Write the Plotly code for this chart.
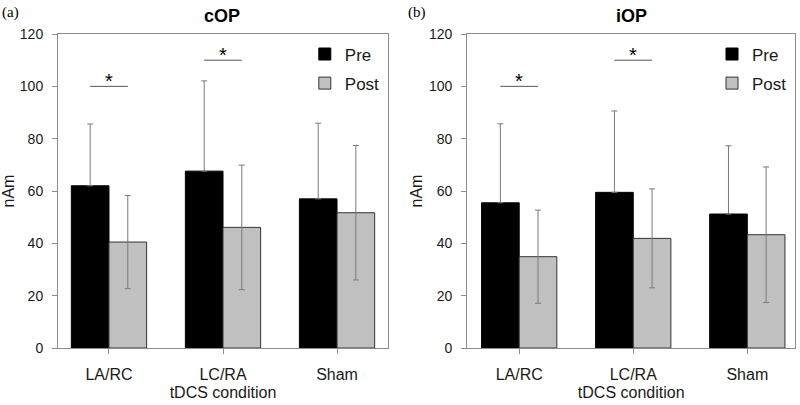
import plotly.graph_objects as go

categories = ["LA/RC", "LC/RA", "Sham"]

# cOP panel (a)
cop_pre = [62.0, 67.6, 57.0]
cop_pre_err = [23.6, 34.5, 28.9]
cop_post = [40.5, 46.1, 51.7]
cop_post_err = [17.8, 23.8, 25.7]

# iOP panel (b)
iop_pre = [55.5, 59.5, 51.2]
iop_pre_err = [30.2, 31.1, 26.1]
iop_post = [34.9, 41.9, 43.3]
iop_post_err = [17.8, 18.9, 25.9]

# significance markers: category index, height
sig_cop = [(0, 100), (1, 110)]
sig_iop = [(0, 100), (1, 110)]

y_ticks = [0, 20, 40, 60, 80, 100, 120]

PRE_COLOR = "#000000"
POST_COLOR = "#c0c0c0"
ERR_COLOR = "#7a7a7a"
FRAME = "#8c8c8c"
TXT = "#1a1a1a"
FONT = "Liberation Sans, Arial, sans-serif"

fig = go.Figure()

def add_panel(pre, pre_err, post, post_err, xa, ya, legend):
    fig.add_trace(go.Bar(
        x=categories, y=pre, name="Pre", xaxis=xa, yaxis=ya, legend=legend,
        legendgroup=legend + "pre",
        marker=dict(color=PRE_COLOR, line=dict(color="#000000", width=1)),
        error_y=dict(type="data", array=pre_err, arrayminus=[0] * len(pre_err),
                     symmetric=False, color=ERR_COLOR, thickness=1, width=3),
    ))
    fig.add_trace(go.Bar(
        x=categories, y=post, name="Post", xaxis=xa, yaxis=ya, legend=legend,
        legendgroup=legend + "post",
        marker=dict(color=POST_COLOR, line=dict(color="#333333", width=1)),
        error_y=dict(type="data", array=post_err, color=ERR_COLOR, thickness=1, width=3),
    ))

add_panel(cop_pre, cop_pre_err, cop_post, cop_post_err, "x", "y", "legend")
add_panel(iop_pre, iop_pre_err, iop_post, iop_post_err, "x2", "y2", "legend2")

half = 0.165
for sig, xr, yr in [(sig_cop, "x", "y"), (sig_iop, "x2", "y2")]:
    for idx, h in sig:
        fig.add_shape(type="line", xref=xr, yref=yr, x0=idx - half, x1=idx + half,
                      y0=h, y1=h, line=dict(color="#555555", width=1))
        fig.add_annotation(xref=xr, yref=yr, x=idx, y=h, text="*", showarrow=False,
                           yanchor="bottom", yshift=-8,
                           font=dict(family=FONT, size=20, color="#000000"))

ydom = [0.1407, 0.916]
xaxis_common = dict(
    type="category", showline=True, mirror=True, linecolor=FRAME, linewidth=1,
    ticks="outside", ticklen=5, tickcolor=FRAME, showgrid=False, zeroline=False,
    ticklabelstandoff=7,
    tickfont=dict(family=FONT, size=16, color=TXT),
    title=dict(text="tDCS condition", font=dict(family=FONT, size=16, color=TXT), standoff=4),
)
yaxis_common = dict(
    range=[0, 120], tickvals=y_ticks, showline=True, mirror=True, linecolor=FRAME,
    linewidth=1, ticks="outside", ticklen=5, tickcolor=FRAME, showgrid=False,
    zeroline=False, domain=ydom, ticklabelstandoff=6,
    tickfont=dict(family=FONT, size=14, color=TXT),
    title=dict(text="nAm", font=dict(family=FONT, size=16, color=TXT), standoff=2),
)

legend_common = dict(xanchor="left", yanchor="top", bgcolor="rgba(0,0,0,0)",
                     font=dict(family=FONT, size=17, color=TXT), tracegroupgap=4,
                     traceorder="grouped")

fig.update_layout(
    width=800, height=405,
    margin=dict(l=0, r=0, t=0, b=0, autoexpand=False),
    paper_bgcolor="white", plot_bgcolor="white",
    barmode="group", bargap=0.34, bargroupgap=0,
    showlegend=True,
    xaxis=dict(domain=[0.0725, 0.485], range=[-0.447, 2.447], anchor="y", **xaxis_common),
    yaxis=dict(anchor="x", **yaxis_common),
    xaxis2=dict(domain=[0.584, 0.994], range=[-0.456, 2.42], anchor="y2", **xaxis_common),
    yaxis2=dict(anchor="x2", **yaxis_common),
    legend=dict(x=0.381, y=0.91, **legend_common),
    legend2=dict(x=0.89, y=0.91, **legend_common),
    annotations=list(fig.layout.annotations) + [
        dict(xref="paper", yref="paper", x=0.278, y=0.96, text="<b>cOP</b>", showarrow=False,
             xanchor="center", yanchor="middle", font=dict(family=FONT, size=18, color="#000")),
        dict(xref="paper", yref="paper", x=0.789, y=0.96, text="<b>iOP</b>", showarrow=False,
             xanchor="center", yanchor="middle", font=dict(family=FONT, size=18, color="#000")),
        dict(xref="paper", yref="paper", x=0.0, y=0.968, text="(a)", showarrow=False,
             xanchor="left", yanchor="middle",
             font=dict(family="Liberation Serif, serif", size=15, color="#000")),
        dict(xref="paper", yref="paper", x=0.507, y=0.968, text="(b)", showarrow=False,
             xanchor="left", yanchor="middle",
             font=dict(family="Liberation Serif, serif", size=15, color="#000")),
    ],
)

fig.write_html("out.html", config={"displayModeBar": False},
               post_script="document.body.style.margin='0';")
